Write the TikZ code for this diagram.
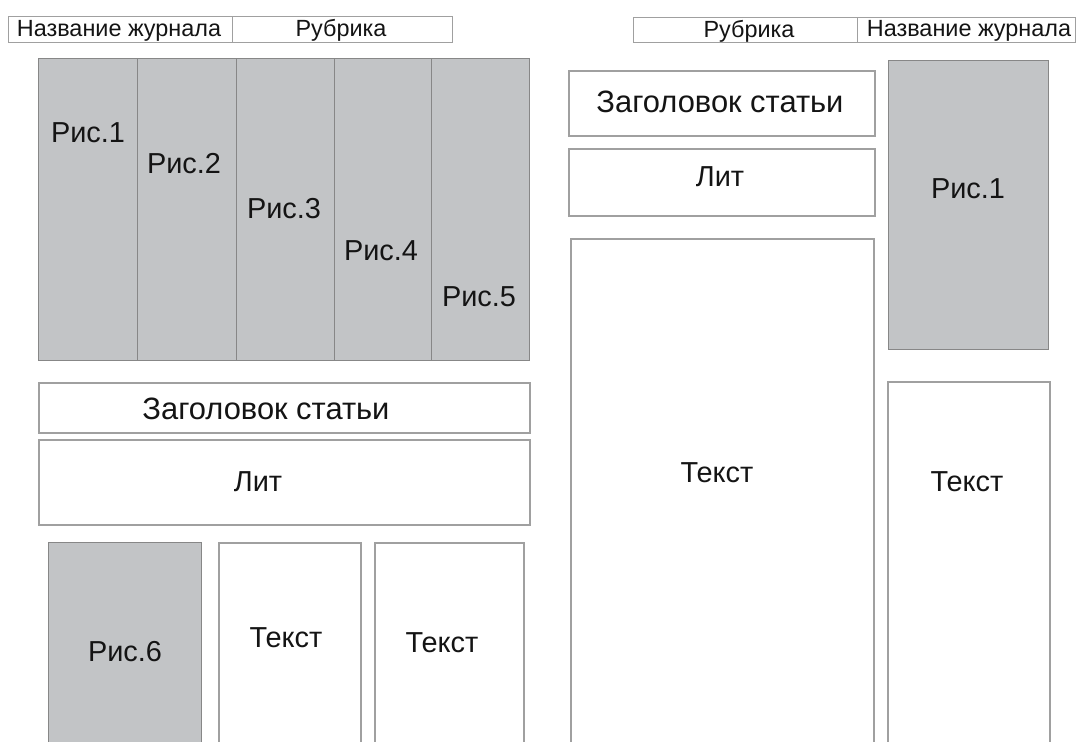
\documentclass[tikz,border=0pt]{standalone}
\usepackage{fontspec}
\setmainfont{Liberation Sans}
\definecolor{edge}{RGB}{160,160,160}
\definecolor{picfill}{RGB}{194,196,198}
\definecolor{picedge}{RGB}{135,135,135}
\definecolor{ink}{RGB}{20,20,20}
\tikzset{
  wbox/.style={draw=edge, line width=1.6bp, fill=white, inner sep=0pt, anchor=north west},
  gbox/.style={draw=picedge, line width=1.4bp, fill=picfill, inner sep=0pt, anchor=north west},
  hbox/.style={draw=edge, line width=1.4bp, fill=white, inner sep=0pt, anchor=north west},
  lbl/.style={text=ink, inner sep=0pt, text height=20.8bp, text depth=0pt, font=\fontsize{29}{31}\selectfont},
  tlbl/.style={text=ink, inner sep=0pt, text height=22.2bp, text depth=0pt, font=\fontsize{31}{33}\selectfont},
  hlbl/.style={text=ink, inner sep=0pt, text height=16.8bp, text depth=0pt, font=\fontsize{23.5}{25}\selectfont}
}
\begin{document}
\begin{tikzpicture}[x=1bp,y=-1bp]
\path[use as bounding box, fill=white] (0,0) rectangle (1078,742);
\begin{scope}
\clip (0,0) rectangle (1078,742);
% left header
\node[hbox, minimum width=224bp, minimum height=26bp] (hLn) at (8,16) {};
\node[hbox, minimum width=220bp, minimum height=26bp] (hLr) at (232,16) {};
\node[hlbl] (tLn) at (119,28.5) {Название журнала};
\node[hlbl] (tLr) at (341,28.5) {Рубрика};
% right header
\node[hbox, minimum width=224bp, minimum height=25bp] (hRr) at (633,17) {};
\node[hbox, minimum width=218bp, minimum height=25bp] (hRn) at (857,17) {};
\node[hlbl] (tRr) at (749,29) {Рубрика};
\node[hlbl] (tRn) at (969,28.5) {Название журнала};
% left pictures
\node[gbox, minimum width=99bp, minimum height=302bp] (p1) at (38,58) {};
\node[gbox, minimum width=99bp, minimum height=302bp] (p2) at (137,58) {};
\node[gbox, minimum width=98bp, minimum height=302bp] (p3) at (236,58) {};
\node[gbox, minimum width=97bp, minimum height=302bp] (p4) at (334,58) {};
\node[gbox, minimum width=98bp, minimum height=302bp] (p5) at (431,58) {};
\node[lbl] (tp1) at (88,132) {Рис.1};
\node[lbl] (tp2) at (184,163) {Рис.2};
\node[lbl] (tp3) at (284,208) {Рис.3};
\node[lbl] (tp4) at (381,250) {Рис.4};
\node[lbl] (tp5) at (479,296) {Рис.5};
% left title and lit
\node[wbox, minimum width=491bp, minimum height=50bp] (zL) at (38,382) {};
\node[tlbl] (tzL) at (266,408) {Заголовок статьи};
\node[wbox, minimum width=491bp, minimum height=85bp] (lL) at (38,439) {};
\node[lbl] (tlL) at (258,481) {Лит};
% left bottom row
\node[gbox, minimum width=153bp, minimum height=210bp] (p6) at (48,542) {};
\node[lbl] (tp6) at (125,651) {Рис.6};
\node[wbox, minimum width=142bp, minimum height=210bp] (x2) at (218,542) {};
\node[lbl] (tx2) at (286,637) {Текст};
\node[wbox, minimum width=149bp, minimum height=210bp] (x3) at (374,542) {};
\node[lbl] (tx3) at (442,642) {Текст};
% right column 1
\node[wbox, minimum width=306bp, minimum height=65bp] (zR) at (568,70) {};
\node[tlbl] (tzR) at (720,101) {Заголовок статьи};
\node[wbox, minimum width=306bp, minimum height=67bp] (lR) at (568,148) {};
\node[lbl] (tlR) at (720,176) {Лит};
\node[wbox, minimum width=303bp, minimum height=515bp] (xR) at (570,238) {};
\node[lbl] (txR) at (717,472) {Текст};
% right column 2
\node[gbox, minimum width=160bp, minimum height=289bp] (pR) at (888,60) {};
\node[lbl] (tpR) at (968,188) {Рис.1};
\node[wbox, minimum width=162bp, minimum height=372bp] (xR2) at (887,381) {};
\node[lbl] (txR2) at (967,481) {Текст};
\end{scope}
\end{tikzpicture}
\end{document}
